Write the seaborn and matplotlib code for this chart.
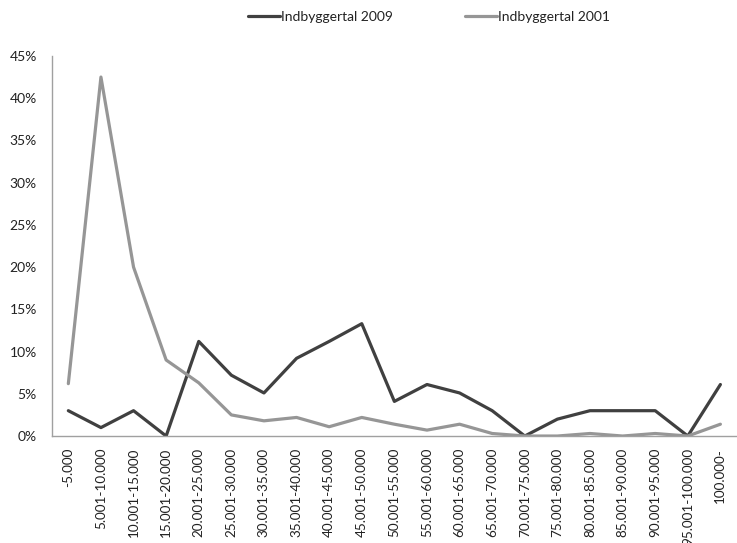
import matplotlib.pyplot as plt
import numpy as np
import pandas as pd
import seaborn as sns
from matplotlib.ticker import FixedLocator, PercentFormatter

categories = ["-5.000", "5.001-10.000", "10.001-15.000", "15.001-20.000", "20.001-25.000",
              "25.001-30.000", "30.001-35.000", "35.001-40.000", "40.001-45.000", "45.001-50.000",
              "50.001-55.000", "55.001-60.000", "60.001-65.000", "65.001-70.000", "70.001-75.000",
              "75.001-80.000", "80.001-85.000", "85.001-90.000", "90.001-95.000", "95.001-100.000",
              "100.000-"]
pct_2009 = [3.0, 1.0, 3.0, 0.0, 11.2, 7.2, 5.1, 9.2, 11.2, 13.3, 4.1, 6.1, 5.1, 3.0, 0.0,
            2.0, 3.0, 3.0, 3.0, 0.0, 6.1]
pct_2001 = [6.2, 42.5, 20.0, 9.0, 6.3, 2.5, 1.8, 2.2, 1.1, 2.2, 1.4, 0.7, 1.4, 0.3, 0.0,
            0.0, 0.3, 0.0, 0.3, 0.0, 1.4]
series = ["Indbyggertal 2009", "Indbyggertal 2001"]

df = pd.DataFrame({
    "pos": list(range(len(categories))) * 2,
    "value": pct_2009 + pct_2001,
    "serie": [series[0]] * len(categories) + [series[1]] * len(categories),
})

sns.set_style("white")
plt.rcParams["font.family"] = ["Lato", "DejaVu Sans"]

fig = plt.figure(figsize=(7.37, 5.43), dpi=100)
ax = fig.add_axes([0.0706, 0.197, 0.929, 0.700])

sns.lineplot(data=df, x="pos", y="value", hue="serie", hue_order=series,
             palette={series[0]: "#404040", series[1]: "#969696"},
             linewidth=2.3, ax=ax)

ax.set_xlim(-0.5, len(categories) - 0.5)
ax.set_ylim(0, 45)
ax.set_yticks(np.arange(0, 46, 5))
ax.yaxis.set_major_formatter(PercentFormatter(decimals=0))
ax.set_xticks(range(len(categories)))
ax.set_xticklabels(categories, rotation=90, fontsize=9.7, color="#222222")
ax.xaxis.set_minor_locator(FixedLocator(np.arange(-0.5, len(categories), 1)))
ax.tick_params(axis="x", which="major", length=0, pad=8.5)
ax.tick_params(axis="x", which="minor", length=4, color="#a0a0a0", width=1)
ax.tick_params(axis="y", length=4, color="#a0a0a0", width=1, labelsize=10,
               labelcolor="#222222", pad=7)
ax.set_xlabel("")
ax.set_ylabel("")

for side in ["top", "right"]:
    ax.spines[side].set_visible(False)
for side in ["left", "bottom"]:
    ax.spines[side].set_color("#a0a0a0")
    ax.spines[side].set_linewidth(1)

leg = ax.legend(loc="center", bbox_to_anchor=(429 / 737, 1 - 17 / 543),
                bbox_transform=fig.transFigure, ncol=2, frameon=False,
                fontsize=10, handlelength=2.3, handletextpad=0.1, columnspacing=5.2)
for t in leg.get_texts():
    t.set_color("#222222")

fig.savefig("out.png", dpi=100)
